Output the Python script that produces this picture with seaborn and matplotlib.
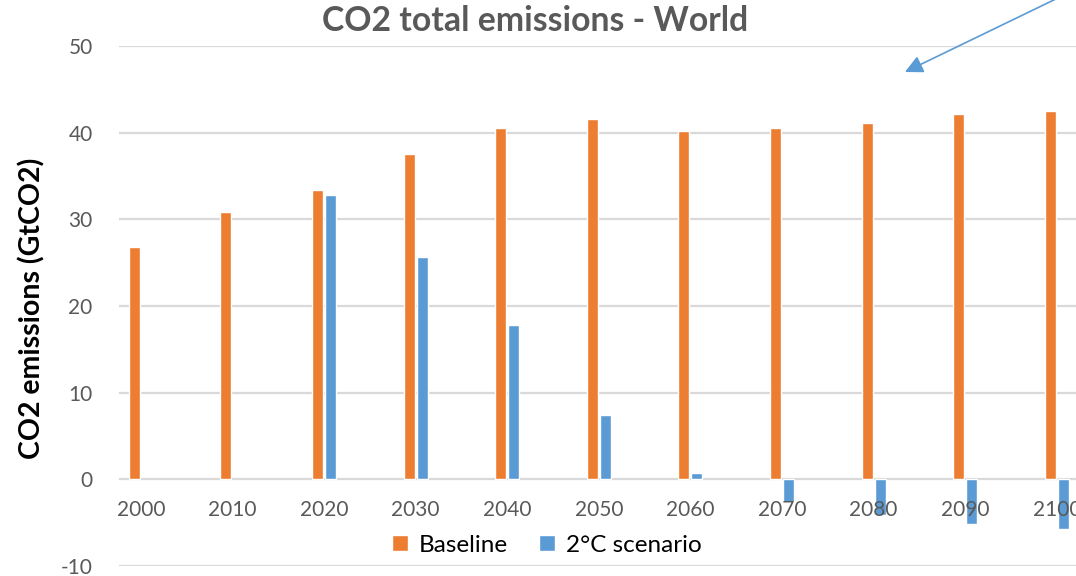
import matplotlib
matplotlib.use("Agg")
import matplotlib.pyplot as plt
import seaborn as sns
import pandas as pd
import numpy as np

years = ["2000", "2010", "2020", "2030", "2040", "2050", "2060", "2070", "2080", "2090", "2100"]
baseline = [26.8, 30.9, 33.4, 37.5, 40.5, 41.6, 40.2, 40.5, 41.1, 42.2, 42.5]
scenario_years = ["2020", "2030", "2040", "2050", "2060", "2070", "2080", "2090", "2100"]
scenario = [32.8, 25.7, 17.8, 7.4, 0.7, -2.6, -4.1, -5.2, -5.7]
series_names = ["Baseline", "2°C scenario"]
yticks = [-10, 0, 10, 20, 30, 40, 50]

df = pd.concat([
    pd.DataFrame({"year": years, "value": baseline, "series": series_names[0]}),
    pd.DataFrame({"year": scenario_years, "value": scenario, "series": series_names[1]}),
], ignore_index=True)

sns.set_theme(style="white")
plt.rcParams["font.family"] = ["Lato", "DejaVu Sans"]

W, H = 1076, 576
fig = plt.figure(figsize=(W / 100, H / 100), dpi=100)
ax = fig.add_axes([119 / W, 10 / H, 1 - 119 / W, (566 - 46) / H])

sns.barplot(data=df, x="year", y="value", hue="series", order=years,
            hue_order=series_names, palette=["#ED7D31", "#5B9BD5"], saturation=1,
            width=0.285, gap=0.16, errorbar=None, ax=ax, legend=True)

ax.set_xlim(-0.238, 10.21)
ax.set_ylim(-10, 50)
ax.set_yticks(yticks)
ax.set_yticklabels([str(t) for t in yticks])
# gridlines below bars, tick labels above bars
ax.set_axisbelow(False)
ax.grid(False)
for t in yticks:
    ax.axhline(t, color="#D9D9D9", linewidth=1.6, zorder=0.5)
for s in ax.spines.values():
    s.set_visible(False)
ax.spines["bottom"].set_position(("data", 0))
ax.tick_params(axis="x", length=0, pad=15, labelsize=15, labelcolor="#595959")
ax.tick_params(axis="y", length=0, pad=19, labelsize=15, labelcolor="#595959")
ax.set_xlabel("")
ax.set_ylabel("")

handles, labels = ax.get_legend_handles_labels()
ax.legend_.remove()
fig.legend(handles, labels, loc="center", bbox_to_anchor=(547 / W, 1 - 545 / H),
           ncol=2, frameon=False, fontsize=17.5, handlelength=0.65, handleheight=0.65,
           handletextpad=0.45, columnspacing=1.3, labelcolor="black")

fig.text(535 / W, 1 - 21 / H, "CO2 total emissions - World", ha="center", va="center",
         fontsize=24.3, fontweight="bold", color="#595959")
fig.text(31.5 / W, 1 - 308 / H, "CO2 emissions (GtCO2)", ha="center", va="center",
         rotation=90, fontsize=20.5, fontweight="bold", color="black")

ax.annotate("", xy=(905 / W, 1 - 72 / H), xycoords="figure fraction",
            xytext=(1062 / W, 1 + 4 / H), textcoords="figure fraction",
            arrowprops=dict(arrowstyle="-|>,head_length=0.9,head_width=0.45",
                            color="#5B9BD5", lw=1.2, shrinkA=0, shrinkB=0))

fig.savefig("out.png", dpi=100)
